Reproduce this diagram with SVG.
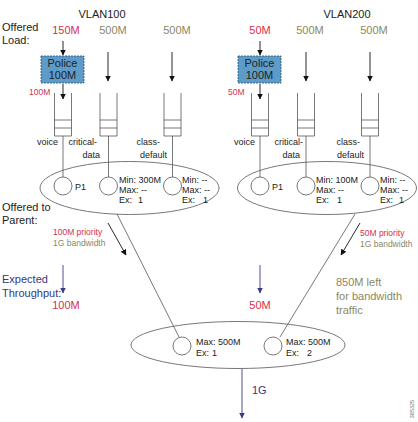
<svg xmlns="http://www.w3.org/2000/svg" width="418" height="422" viewBox="0 0 418 422">
<defs>
<style>
text{font-family:"Liberation Sans",Arial,sans-serif;fill:#222}
.t11{font-size:11px}
.t9{font-size:9px}
.t85{font-size:8.5px}
.red{fill:#d62f4c}
.olive{fill:#8a8862}
.navy{fill:#363683}
.ln{stroke:#555;stroke-width:0.8;fill:none}
.shape{stroke:#555;stroke-width:0.8;fill:#fff}
.arr{stroke:#111;stroke-width:0.9;fill:none;marker-end:url(#ah)}
.barr{stroke:#3a3a8a;stroke-width:0.9;fill:none;marker-end:url(#bh)}
.police{fill:#5d9cc8;stroke:#2d4d6d;stroke-width:0.8;stroke-dasharray:2 1}
</style>
<marker id="ah" viewBox="0 0 6 6" refX="5.5" refY="3" markerWidth="6" markerHeight="6" markerUnits="userSpaceOnUse" orient="auto">
<path d="M0,0 L6,3 L0,6 Z" fill="#111"/>
</marker>
<marker id="bh" viewBox="0 0 6 6" refX="5.5" refY="3" markerWidth="6" markerHeight="6" markerUnits="userSpaceOnUse" orient="auto">
<path d="M0,0 L6,3 L0,6 Z" fill="#3a3a8a"/>
</marker>
</defs>
<rect width="418" height="422" fill="#fff"/>

<!-- general labels -->
<text class="t11" x="102" y="18" text-anchor="middle">VLAN100</text>
<text class="t11" x="347" y="18" text-anchor="middle">VLAN200</text>
<text class="t11" x="2" y="31">Offered</text>
<text class="t11" x="2" y="44">Load:</text>
<text class="t11" x="2" y="211">Offered to</text>
<text class="t11" x="2" y="224">Parent:</text>
<text class="t11 navy" x="2" y="283">Expected</text>
<text class="t11 navy" x="2" y="297">Throughput:</text>

<!-- offered loads -->
<text class="t11 red" x="66" y="34" text-anchor="middle">150M</text>
<text class="t11 olive" x="113" y="34" text-anchor="middle">500M</text>
<text class="t11 olive" x="177" y="34" text-anchor="middle">500M</text>
<text class="t11 red" x="260" y="34" text-anchor="middle">50M</text>
<text class="t11 olive" x="310" y="34" text-anchor="middle">500M</text>
<text class="t11 olive" x="374" y="34" text-anchor="middle">500M</text>

<!-- connectors -->
<g id="connectors">
<line class="arr" x1="63" y1="41" x2="63" y2="55"/>
<line class="arr" x1="108" y1="52" x2="108" y2="81"/>
<line class="arr" x1="172" y1="52" x2="172" y2="81"/>
<line class="arr" x1="63" y1="84" x2="63" y2="99"/>
<line class="arr" x1="260" y1="41" x2="260" y2="55"/>
<line class="arr" x1="306" y1="52" x2="306" y2="81"/>
<line class="arr" x1="370" y1="52" x2="370" y2="81"/>
<line class="arr" x1="260" y1="84" x2="260" y2="99"/>
<!-- queue to scheduler -->
<line class="ln" x1="63" y1="136" x2="63" y2="177"/>
<line class="ln" x1="108.5" y1="136" x2="108.5" y2="177"/>
<line class="ln" x1="172.5" y1="136" x2="172.5" y2="177"/>
<line class="ln" x1="260" y1="136" x2="260" y2="177"/>
<line class="ln" x1="306" y1="136" x2="306" y2="177"/>
<line class="ln" x1="370" y1="136" x2="370" y2="177"/>
<!-- to parent -->
<line class="ln" x1="117" y1="214" x2="179" y2="337"/>
<line class="ln" x1="355" y1="214" x2="280" y2="337"/>
<line class="arr" x1="108" y1="223" x2="126" y2="255"/>
<line class="arr" x1="360" y1="223" x2="341" y2="255"/>
<line class="barr" x1="63" y1="265" x2="63" y2="293"/>
<line class="barr" x1="260" y1="265" x2="260" y2="293"/>
<line class="barr" x1="242" y1="369" x2="242" y2="418"/>
</g>

<!-- police boxes -->
<g id="police1">
<rect class="police" x="41" y="56" width="43" height="27"/>
<text class="t11" x="62.5" y="67" text-anchor="middle">Police</text>
<text class="t11" x="62.5" y="79" text-anchor="middle">100M</text>
</g>
<g id="police2">
<rect class="police" x="238" y="56" width="43" height="27"/>
<text class="t11" x="259.5" y="67" text-anchor="middle">Police</text>
<text class="t11" x="259.5" y="79" text-anchor="middle">100M</text>
</g>
<text class="t85 red" x="29" y="95">100M</text>
<text class="t85 red" x="228" y="95">50M</text>

<!-- queues -->
<g id="q-voice1">
<path class="ln" d="M54.5,93 V136 H71.5 V93 M54.5,120 H71.5 M54.5,128 H71.5"/>
<text class="t9" x="58" y="145" text-anchor="end">voice</text>
</g>
<g id="q-crit1">
<path class="ln" d="M100,93 V136 H117 V93 M100,120 H117 M100,128 H117"/>
<text class="t9" x="97" y="145" text-anchor="end">critical-</text>
<text class="t9" x="100" y="158" text-anchor="end">data</text>
</g>
<g id="q-def1">
<path class="ln" d="M164,93 V136 H181 V93 M164,120 H181 M164,128 H181"/>
<text class="t9" x="160" y="145" text-anchor="end">class-</text>
<text class="t9" x="167" y="158" text-anchor="end">default</text>
</g>
<g id="q-voice2">
<path class="ln" d="M251.5,93 V136 H268.5 V93 M251.5,120 H268.5 M251.5,128 H268.5"/>
<text class="t9" x="255" y="145" text-anchor="end">voice</text>
</g>
<g id="q-crit2">
<path class="ln" d="M297.5,93 V136 H314.5 V93 M297.5,120 H314.5 M297.5,128 H314.5"/>
<text class="t9" x="303" y="145" text-anchor="end">critical-</text>
<text class="t9" x="300" y="158" text-anchor="end">data</text>
</g>
<g id="q-def2">
<path class="ln" d="M361.5,93 V136 H378.5 V93 M361.5,120 H378.5 M361.5,128 H378.5"/>
<text class="t9" x="360" y="145" text-anchor="end">class-</text>
<text class="t9" x="364" y="158" text-anchor="end">default</text>
</g>

<!-- VLAN100 scheduler -->
<g id="sched1">
<ellipse class="ln" cx="129.5" cy="188" rx="89.5" ry="26.5"/>
<circle class="shape" cx="63" cy="186" r="9"/>
<text class="t9" x="75" y="190">P1</text>
<circle class="shape" cx="108.5" cy="186" r="9"/>
<text class="t9" x="119" y="183">Min: 300M</text>
<text class="t9" x="119" y="193">Max: --</text>
<text class="t9" x="119" y="203">Ex:<tspan x="138">1</tspan></text>
<circle class="shape" cx="172.5" cy="186" r="9"/>
<text class="t9" x="182" y="183">Min: --</text>
<text class="t9" x="182" y="193">Max: --</text>
<text class="t9" x="182" y="203">Ex:<tspan x="203">1</tspan></text>
</g>

<!-- VLAN200 scheduler -->
<g id="sched2">
<ellipse class="ln" cx="327" cy="188" rx="89.5" ry="26.5"/>
<circle class="shape" cx="260" cy="186" r="9"/>
<text class="t9" x="272" y="190">P1</text>
<circle class="shape" cx="306" cy="186" r="9"/>
<text class="t9" x="316" y="183">Min: 100M</text>
<text class="t9" x="316" y="193">Max: --</text>
<text class="t9" x="316" y="203">Ex:<tspan x="337">1</tspan></text>
<circle class="shape" cx="370" cy="186" r="9"/>
<text class="t9" x="380" y="183">Min: --</text>
<text class="t9" x="380" y="193">Max: --</text>
<text class="t9" x="380" y="203">Ex:<tspan x="399">1</tspan></text>
</g>

<!-- annotations -->
<text class="t85 red" x="53" y="235">100M priority</text>
<text class="t85 olive" x="53" y="246">1G bandwidth</text>
<text class="t85 red" x="360" y="236">50M priority</text>
<text class="t85 olive" x="360" y="247">1G bandwidth</text>
<text class="t11 red" x="66" y="309" text-anchor="middle">100M</text>
<text class="t11 red" x="260" y="309" text-anchor="middle">50M</text>
<text class="t11 olive" x="336" y="286">850M left</text>
<text class="t11 olive" x="336" y="300">for bandwidth</text>
<text class="t11 olive" x="336" y="314">traffic</text>

<!-- parent scheduler -->
<g id="parent">
<ellipse class="ln" cx="238" cy="345" rx="107" ry="23.5"/>
<circle class="shape" cx="182" cy="346" r="9"/>
<text class="t9" x="196" y="345">Max: 500M</text>
<text class="t9" x="196" y="356">Ex:<tspan x="212">1</tspan></text>
<circle class="shape" cx="273" cy="346" r="9"/>
<text class="t9" x="286" y="345">Max: 500M</text>
<text class="t9" x="286" y="356">Ex:<tspan x="307">2</tspan></text>
</g>
<text class="t11 navy" x="252" y="394">1G</text>
<text x="414" y="409" font-size="5.5" fill="#777" style="fill:#777" text-anchor="middle" transform="rotate(-90 414 409)">385325</text>
</svg>
